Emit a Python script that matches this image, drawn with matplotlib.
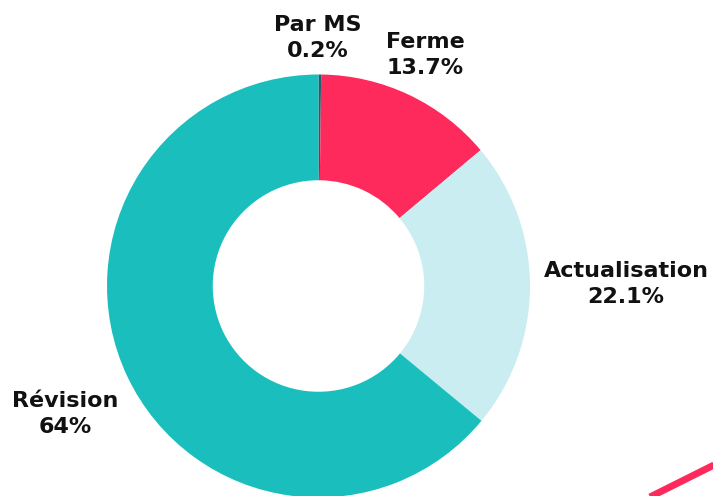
import matplotlib
matplotlib.use("Agg")
import matplotlib.pyplot as plt
from matplotlib.lines import Line2D

categories = ["Par MS", "Ferme", "Actualisation", "Révision"]
values = [0.2, 13.7, 22.1, 64]
pct_labels = ["0.2%", "13.7%", "22.1%", "64%"]
colors = ["#1f5f6e", "#ff2a5c", "#c9edf0", "#1abfbd"]
# label anchor points in pixel coords (x, y from top)
label_pos = [(318, 38), (425, 55), (626, 284), (65, 414)]

W, H = 713, 496
fig = plt.figure(figsize=(W / 100, H / 100), dpi=100)
ax = fig.add_axes([0, 0, 1, 1])
cx, cy, R = 318.5, 286, 211.5
ax.pie(values, colors=colors, startangle=90, counterclock=False,
       center=(cx, H - cy), radius=R,
       wedgeprops=dict(width=R * 0.5, linewidth=0))
ax.set_xlim(0, W)
ax.set_ylim(0, H)
ax.set_aspect("equal")
ax.axis("off")

for cat, pct, (x, y) in zip(categories, pct_labels, label_pos):
    ax.text(x, H - y, f"{cat}\n{pct}", ha="center", va="center",
            fontsize=16, fontweight="bold", family=["DejaVu Sans"],
            color="#111111", linespacing=1.4)

# decorative stroke in the bottom-right corner
fig.add_artist(Line2D([650 / W, 716 / W], [1 - 497 / H, 1 - 464 / H],
                      transform=fig.transFigure, color="#ff2a5c", linewidth=5,
                      solid_capstyle="butt"))

fig.savefig("out.png", dpi=100)
